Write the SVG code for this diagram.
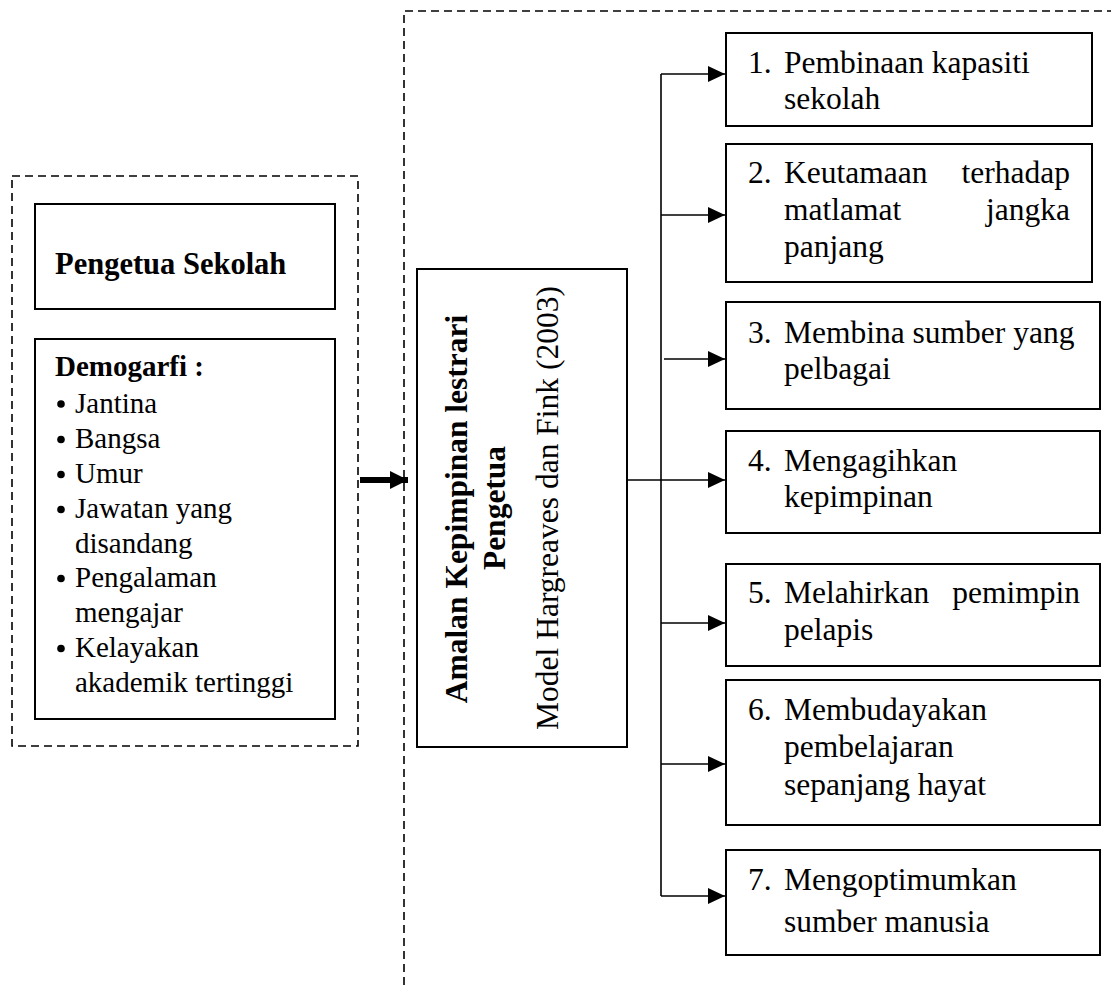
<svg xmlns="http://www.w3.org/2000/svg" width="1111" height="985" viewBox="0 0 1111 985">
<style>
  text { font-family: "Liberation Serif", "Times New Roman", serif; fill: #000; }
  .l { font-size: 29px; }
  .r { font-size: 31.5px; }
  .b { font-weight: bold; }
  .box { fill: #fff; stroke: #000; stroke-width: 2; }
  .dash { fill: none; stroke: #000; stroke-width: 1.6; stroke-dasharray: 8 5; }
  .conn { fill: none; stroke: #000; stroke-width: 1.6; }
</style>
<defs>
  <marker id="ah" markerUnits="userSpaceOnUse" markerWidth="17" markerHeight="16" refX="17" refY="8" orient="auto">
    <path d="M0,0 L17,8 L0,16 z" fill="#000"/>
  </marker>
  <marker id="ahb" markerUnits="userSpaceOnUse" markerWidth="18" markerHeight="18" refX="18" refY="9" orient="auto">
    <path d="M0,0 L18,9 L0,18 z" fill="#000"/>
  </marker>
</defs>
<rect width="1111" height="985" fill="#fff"/>

<g id="frame-left">
  <rect class="dash" x="12" y="176" width="346" height="570"/>
</g>
<g id="frame-right">
  <path class="dash" d="M404,985 L404,11 L1111,11"/>
</g>

<g id="node-pengetua">
  <rect class="box" x="35" y="204" width="300" height="105"/>
  <text class="l b" x="55" y="274" style="font-size:30.5px">Pengetua Sekolah</text>
</g>

<g id="node-demografi">
  <rect class="box" x="35" y="339" width="300" height="380"/>
  <text class="l b" x="55" y="376">Demogarfi :</text>
  <g fill="#000">
    <circle cx="61" cy="404" r="3.8"/>
    <circle cx="61" cy="439.5" r="3.8"/>
    <circle cx="61" cy="474.5" r="3.8"/>
    <circle cx="61" cy="509.5" r="3.8"/>
    <circle cx="61" cy="578.5" r="3.8"/>
    <circle cx="61" cy="648.5" r="3.8"/>
  </g>
  <text class="l" x="75" y="413">Jantina</text>
  <text class="l" x="75" y="448">Bangsa</text>
  <text class="l" x="75" y="483">Umur</text>
  <text class="l" x="75" y="518">Jawatan yang</text>
  <text class="l" x="75" y="552.5">disandang</text>
  <text class="l" x="75" y="587">Pengalaman</text>
  <text class="l" x="75" y="622">mengajar</text>
  <text class="l" x="75" y="657">Kelayakan</text>
  <text class="l" x="75" y="691.5">akademik tertinggi</text>
</g>

<g id="node-amalan">
  <rect class="box" x="417" y="269" width="210" height="478"/>
  <text class="r b" text-anchor="middle" transform="translate(467,509) rotate(-90)">Amalan Kepimpinan lestrari</text>
  <text class="r b" text-anchor="middle" transform="translate(505,508) rotate(-90)">Pengetua</text>
  <text class="r" text-anchor="middle" transform="translate(558,508) rotate(-90)">Model Hargreaves dan Fink (2003)</text>
</g>

<g id="node-1">
  <rect class="box" x="726" y="33" width="366" height="93"/>
  <text class="r" x="748" y="73">1.</text>
  <text class="r" x="784" y="73">Pembinaan kapasiti</text>
  <text class="r" x="784" y="109">sekolah</text>
</g>
<g id="node-2">
  <rect class="box" x="726" y="144" width="366" height="138"/>
  <text class="r" x="748" y="183">2.</text>
  <text class="r" x="784" y="183">Keutamaan</text>
  <text class="r" x="1070" y="183" text-anchor="end">terhadap</text>
  <text class="r" x="784" y="220">matlamat</text>
  <text class="r" x="1070" y="220" text-anchor="end">jangka</text>
  <text class="r" x="784" y="257">panjang</text>
</g>
<g id="node-3">
  <rect class="box" x="726" y="302" width="374" height="107"/>
  <text class="r" x="748" y="343">3.</text>
  <text class="r" x="784" y="343">Membina sumber yang</text>
  <text class="r" x="784" y="379">pelbagai</text>
</g>
<g id="node-4">
  <rect class="box" x="726" y="431" width="374" height="102"/>
  <text class="r" x="748" y="471">4.</text>
  <text class="r" x="784" y="471">Mengagihkan</text>
  <text class="r" x="784" y="507">kepimpinan</text>
</g>
<g id="node-5">
  <rect class="box" x="726" y="564" width="374" height="102"/>
  <text class="r" x="748" y="603">5.</text>
  <text class="r" x="784" y="603">Melahirkan</text>
  <text class="r" x="1080" y="603" text-anchor="end">pemimpin</text>
  <text class="r" x="784" y="640">pelapis</text>
</g>
<g id="node-6">
  <rect class="box" x="726" y="680" width="374" height="145"/>
  <text class="r" x="748" y="720">6.</text>
  <text class="r" x="784" y="720">Membudayakan</text>
  <text class="r" x="784" y="757">pembelajaran</text>
  <text class="r" x="784" y="795">sepanjang hayat</text>
</g>
<g id="node-7">
  <rect class="box" x="726" y="850" width="374" height="105"/>
  <text class="r" x="748" y="890">7.</text>
  <text class="r" x="784" y="890">Mengoptimumkan</text>
  <text class="r" x="784" y="932">sumber manusia</text>
</g>

<g id="connectors">
  <line x1="360" y1="480" x2="408" y2="480" stroke="#000" stroke-width="6" marker-end="url(#ahb)"/>
  <line class="conn" x1="661" y1="74" x2="661" y2="896"/>
  <line class="conn" x1="627" y1="480" x2="725" y2="480" marker-end="url(#ah)"/>
  <line class="conn" x1="661" y1="74" x2="725" y2="74" marker-end="url(#ah)"/>
  <line class="conn" x1="661" y1="215" x2="725" y2="215" marker-end="url(#ah)"/>
  <line class="conn" x1="664" y1="359" x2="725" y2="359" marker-end="url(#ah)"/>
  <line class="conn" x1="661" y1="623" x2="725" y2="623" marker-end="url(#ah)"/>
  <line class="conn" x1="661" y1="764" x2="725" y2="764" marker-end="url(#ah)"/>
  <line class="conn" x1="661" y1="896" x2="725" y2="896" marker-end="url(#ah)"/>
</g>
</svg>
